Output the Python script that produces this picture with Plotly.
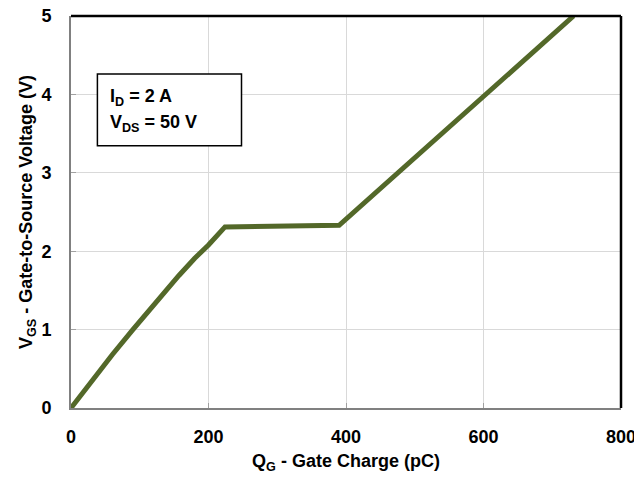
import plotly.graph_objects as go

# Gate charge curve (pC) vs gate-to-source voltage (V)
qg = [0, 20, 40, 60, 90, 110, 135, 157, 180, 200, 224, 300, 390, 731]
vgs = [0, 0.23, 0.46, 0.68, 1.0, 1.21, 1.47, 1.69, 1.91, 2.08, 2.31, 2.315, 2.33, 5.0]

x_ticks = [0, 200, 400, 600, 800]
y_ticks = [0, 1, 2, 3, 4, 5]
x_range = [0, 800]
y_range = [0, 5]

FONT = "Liberation Sans, Arial, sans-serif"
LINE_COLOR = "#536829"

fig = go.Figure()
fig.add_trace(go.Scatter(x=qg, y=vgs, mode="lines",
                         line=dict(color=LINE_COLOR, width=5),
                         showlegend=False, hoverinfo="skip", cliponaxis=False))

axis_common = dict(showgrid=True, gridcolor="#d9d9d9", gridwidth=1,
                   showline=True, linecolor="#808080", linewidth=2,
                   ticks="inside", ticklen=5, tickcolor="#a0a0a0", tickwidth=1,
                   zeroline=False, mirror=False, automargin=False,
                   ticklabeloverflow="allow",
                   tickfont=dict(family=FONT, size=18, color="black"))

fig.update_layout(
    xaxis=dict(range=x_range, ticklabelstandoff=11,
               title=dict(text="<b>Q<sub>G</sub> - Gate Charge (pC)</b>",
                          font=dict(family=FONT, size=18, color="black"), standoff=9),
               tickvals=x_ticks, ticktext=[f"<b>{v}</b>" for v in x_ticks],
               **axis_common),
    yaxis=dict(range=y_range, ticklabelstandoff=14,
               title=dict(text="<b>V<sub>GS</sub> - Gate-to-Source Voltage (V)</b>",
                          font=dict(family=FONT, size=18, color="black"), standoff=4),
               tickvals=y_ticks, ticktext=[f"<b>{v}</b>" for v in y_ticks],
               **axis_common),
)

# top and right black frame lines
fig.add_shape(type="line", xref="paper", yref="paper", x0=0, x1=1, y0=1, y1=1,
              line=dict(color="black", width=2.5), layer="above")
fig.add_shape(type="line", xref="paper", yref="paper", x0=1, x1=1, y0=0, y1=1,
              line=dict(color="black", width=2.5), layer="above")

# condition box
fig.add_shape(type="rect", xref="paper", yref="paper",
              x0=0.048, x1=0.31, y0=0.669, y1=0.852,
              line=dict(color="black", width=1.5), fillcolor="white", layer="above")
fig.add_annotation(xref="paper", yref="paper", x=0.068, y=0.791, xanchor="left", yanchor="middle",
                   text="<b>I<sub>D</sub> = 2 A</b>", showarrow=False,
                   font=dict(family=FONT, size=18, color="black"))
fig.add_annotation(xref="paper", yref="paper", x=0.068, y=0.726, xanchor="left", yanchor="middle",
                   text="<b>V<sub>DS</sub> = 50 V</b>", showarrow=False,
                   font=dict(family=FONT, size=18, color="black"))

# page body has an 8px margin, so the figure is sized/offset to compensate
fig.update_layout(width=634, height=476,
                  margin=dict(l=63, r=21, t=8, b=76, autoexpand=False),
                  paper_bgcolor="white", plot_bgcolor="white")

fig.write_html("out.html")
